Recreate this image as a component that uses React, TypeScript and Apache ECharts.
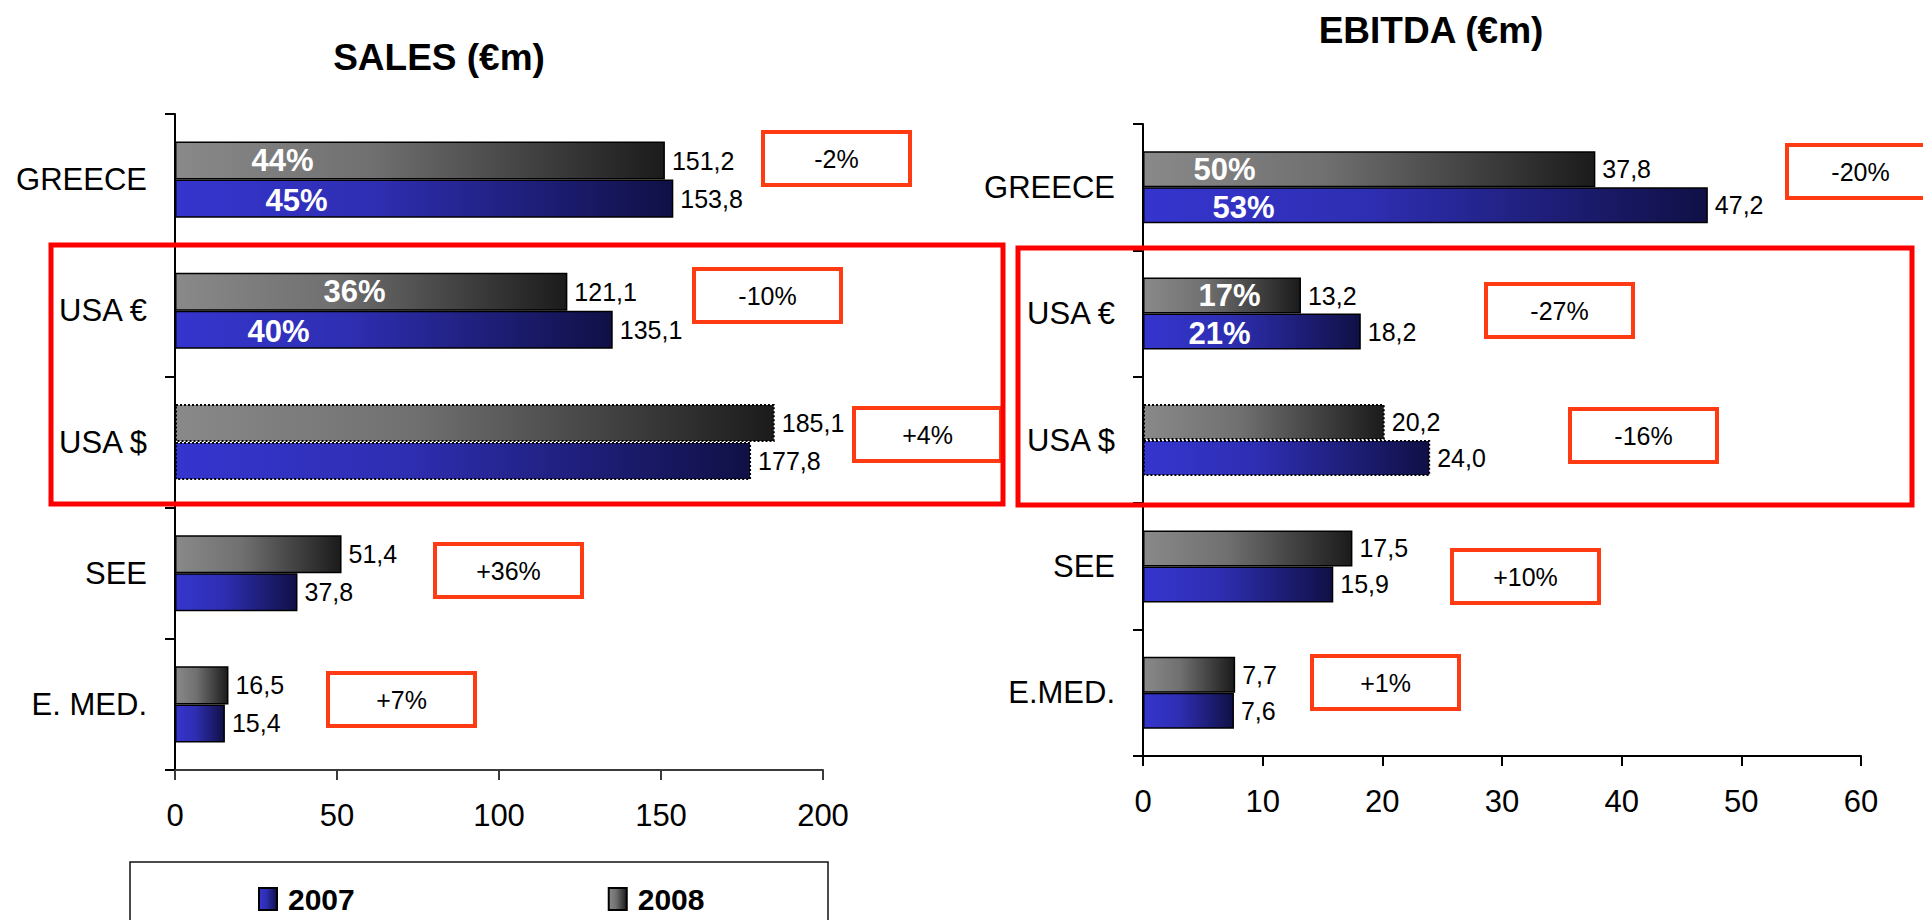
import React, { useEffect, useRef } from 'react';
import * as echarts from 'echarts';

// ---- data ----
const salesCategories = ['GREECE', 'USA €', 'USA $', 'SEE', 'E. MED.'];
const ebitdaCategories = ['GREECE', 'USA €', 'USA $', 'SEE', 'E.MED.'];
const years = ['2007', '2008'];

const sales2007 = [153.8, 135.1, 177.8, 37.8, 15.4];
const sales2008 = [151.2, 121.1, 185.1, 51.4, 16.5];
const ebitda2007 = [47.2, 18.2, 24.0, 15.9, 7.6];
const ebitda2008 = [37.8, 13.2, 20.2, 17.5, 7.7];

// share of the group total (%), printed inside the bar
const salesShare2007 = [45, 40, null, null, null];
const salesShare2008 = [44, 36, null, null, null];
const ebitdaShare2007 = [53, 21, null, null, null];
const ebitdaShare2008 = [50, 17, null, null, null];

// year-on-year change (%)
const salesChange = [-2, -10, 4, 36, 7];
const ebitdaChange = [-20, -27, -16, 10, 1];

// USD-converted rows are outlined with a dotted border
const convertedCategory = 'USA $';

// ---- layout & style ----
const FONT = 'Liberation Sans, Arial, Helvetica, sans-serif';
const salesGrid = { left: 175, top: 114, width: 648, height: 656 };
const ebitdaGrid = { left: 1143, top: 124, width: 718, height: 632 };

// horizontal inset (px from the axis) of the share labels
const salesShareInset2007 = [90, 72, null, null, null];
const salesShareInset2008 = [76, 148, null, null, null];
const ebitdaShareInset2007 = [69, 45, null, null, null];
const ebitdaShareInset2008 = [50, 55, null, null, null];

// top-left corners of the change boxes
const salesChangeBoxes = [[761, 130], [692, 267], [852, 406], [433, 542], [326, 671]];
const ebitdaChangeBoxes = [[1785, 143], [1484, 282], [1568, 407], [1450, 548], [1310, 654]];

const grayFill = () =>
  new echarts.graphic.LinearGradient(0, 0, 1, 0, [
    { offset: 0, color: '#898989' },
    { offset: 0.4, color: '#707070' },
    { offset: 1, color: '#1b1b1b' },
  ]);
const blueFill = () =>
  new echarts.graphic.LinearGradient(0, 0, 1, 0, [
    { offset: 0, color: '#3535cf' },
    { offset: 0.4, color: '#2e2eb2' },
    { offset: 1, color: '#101046' },
  ]);

const fmtValue = (v: number) => v.toFixed(1).replace('.', ',');
const fmtChange = (v: number) => (v > 0 ? '+' : '') + v + '%';

function barSeries(
  name: string,
  values: number[],
  categories: string[],
  axisIndex: number,
  fill: any,
  shares: (number | null)[],
  insets: (number | null)[],
  dy: number,
  categoryGap: string
) {
  return {
    type: 'bar',
    name,
    xAxisIndex: axisIndex,
    yAxisIndex: axisIndex,
    barGap: '0%',
    barCategoryGap: categoryGap,
    itemStyle: { color: fill, borderColor: '#000', borderWidth: 1.5 },
    data: values.map((v, i) =>
      categories[i] === convertedCategory
        ? { value: v, itemStyle: { borderType: 'dotted', borderWidth: 2 } }
        : { value: v }
    ),
    label: {
      show: true,
      position: 'right',
      distance: 7,
      color: '#000',
      fontSize: 25,
      fontFamily: FONT,
      formatter: (p: any) => fmtValue(p.value),
    },
    markPoint: {
      silent: true,
      symbol: 'rect',
      symbolSize: 1,
      itemStyle: { color: 'rgba(0,0,0,0)' },
      label: {
        show: true,
        position: 'right',
        distance: 0,
        color: '#fff',
        fontSize: 31,
        fontWeight: 'bold',
        fontFamily: FONT,
      },
      data: shares
        .map((s, i) =>
          s == null
            ? null
            : {
                coord: [0, categories[i]],
                value: s,
                label: { formatter: s + '%', offset: [insets[i], dy] },
              }
        )
        .filter(Boolean),
    },
  };
}

function changeBox(pos: number[], value: number) {
  return {
    type: 'group',
    x: pos[0],
    y: pos[1],
    z: 100,
    children: [
      {
        type: 'rect',
        shape: { x: 2, y: 2, width: 147, height: 53 },
        style: { fill: 'none', stroke: '#ff3b14', lineWidth: 4 },
      },
      {
        type: 'text',
        x: 75.5,
        y: 28.5,
        style: {
          text: fmtChange(value),
          fontSize: 25,
          fontFamily: FONT,
          fill: '#000',
          align: 'center',
          verticalAlign: 'middle',
        },
      },
    ],
  };
}

function categoryAxis(gridIndex: number, data: string[]) {
  return {
    type: 'category',
    gridIndex,
    data,
    inverse: true,
    axisLine: { show: true, lineStyle: { color: '#000', width: 2 } },
    axisTick: { show: true, length: 10, lineStyle: { color: '#000', width: 2 } },
    axisLabel: { color: '#000', fontSize: 31, fontFamily: FONT, margin: 28, interval: 0 },
    splitLine: { show: false },
  };
}

function valueAxis(gridIndex: number, max: number, interval: number, lineColor: string) {
  return {
    type: 'value',
    gridIndex,
    min: 0,
    max,
    interval,
    axisLine: { show: true, lineStyle: { color: lineColor, width: 2 } },
    axisTick: { show: true, length: 10, lineStyle: { color: lineColor, width: 2 } },
    axisLabel: { color: '#000', fontSize: 31, fontFamily: FONT, margin: 30 },
    splitLine: { show: false },
  };
}

function buildOption() {
  const gray = grayFill();
  const blue = blueFill();
  return {
    animation: false,
    backgroundColor: '#fff',
    grid: [salesGrid, ebitdaGrid],
    xAxis: [valueAxis(0, 200, 50, '#3a3a3a'), valueAxis(1, 60, 10, '#000')],
    yAxis: [categoryAxis(0, salesCategories), categoryAxis(1, ebitdaCategories)],
    legend: {
      data: years,
      left: 258,
      top: 884,
      padding: 0,
      icon: 'rect',
      itemWidth: 18,
      itemHeight: 22,
      itemGap: 253,
      selectedMode: false,
      textStyle: {
        color: '#000',
        fontSize: 30,
        fontWeight: 'bold',
        fontFamily: FONT,
        padding: [0, 0, 0, 6],
      },
    },
    series: [
      // markers on bar series already sit on their own bar, so no vertical shift
      barSeries('2008', sales2008, salesCategories, 0, gray, salesShare2008, salesShareInset2008, 0, '42%'),
      barSeries('2007', sales2007, salesCategories, 0, blue, salesShare2007, salesShareInset2007, 2, '42%'),
      barSeries('2008', ebitda2008, ebitdaCategories, 1, gray, ebitdaShare2008, ebitdaShareInset2008, 0, '43%'),
      barSeries('2007', ebitda2007, ebitdaCategories, 1, blue, ebitdaShare2007, ebitdaShareInset2007, 2, '43%'),
    ],
    graphic: [
      {
        type: 'text',
        x: 439,
        y: 57,
        style: {
          text: 'SALES (€m)',
          fontSize: 37,
          fontWeight: 'bold',
          fontFamily: FONT,
          fill: '#000',
          align: 'center',
          verticalAlign: 'middle',
        },
      },
      {
        type: 'text',
        x: 1431,
        y: 30,
        style: {
          text: 'EBITDA (€m)',
          fontSize: 37,
          fontWeight: 'bold',
          fontFamily: FONT,
          fill: '#000',
          align: 'center',
          verticalAlign: 'middle',
        },
      },
      {
        type: 'rect',
        z: 100,
        shape: { x: 51, y: 245, width: 952, height: 259 },
        style: { fill: 'none', stroke: '#ff0000', lineWidth: 5 },
      },
      {
        type: 'rect',
        z: 100,
        shape: { x: 1018, y: 248, width: 894, height: 257 },
        style: { fill: 'none', stroke: '#ff0000', lineWidth: 5 },
      },
      {
        type: 'rect',
        z: 100,
        shape: { x: 130, y: 862, width: 698, height: 90 },
        style: { fill: 'none', stroke: '#111', lineWidth: 1.5 },
      },
      ...salesChange.map((v, i) => changeBox(salesChangeBoxes[i], v)),
      ...ebitdaChange.map((v, i) => changeBox(ebitdaChangeBoxes[i], v)),
    ],
  };
}

export default function App() {
  const ref = useRef<HTMLDivElement>(null);
  useEffect(() => {
    if (!ref.current) return;
    const chart = echarts.init(ref.current, null, { renderer: 'svg' });
    chart.setOption(buildOption() as any);
    return () => chart.dispose();
  }, []);
  return (
    <div
      ref={ref}
      style={{ position: 'fixed', left: 0, top: 0, width: 1923, height: 920, background: '#fff' }}
    />
  );
}
